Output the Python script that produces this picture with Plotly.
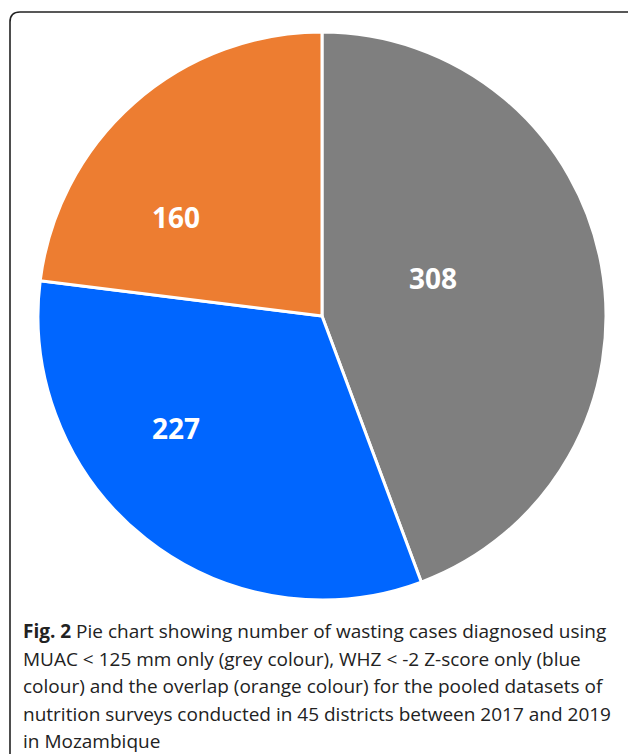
import plotly.graph_objects as go

categories = ["MUAC < 125 mm only", "WHZ < -2 Z-score only", "Overlap"]
values = [308, 227, 160]
colors = ["#7F7F7F", "#0066FF", "#ED7D31"]

caption_lines = [
    "<b>Fig. 2</b> Pie chart showing number of wasting cases diagnosed using",
    "MUAC < 125 mm only (grey colour), WHZ < -2 Z-score only (blue",
    "colour) and the overlap (orange colour) for the pooled datasets of",
    "nutrition surveys conducted in 45 districts between 2017 and 2019",
    "in Mozambique",
]

W, H = 628, 754

# label anchor positions (pixels) as placed in the original figure
label_px = [(433, 278), (176, 428), (176, 217)]
caption_baselines_px = [637, 664.5, 692, 719.5, 747]

fig = go.Figure(go.Pie(
    labels=categories,
    values=values,
    sort=False,
    direction="clockwise",
    rotation=0,
    marker=dict(colors=colors, line=dict(color="white", width=3)),
    textinfo="none",
    domain=dict(x=[38 / W, 606 / W], y=[(H - 600) / H, (H - 32) / H]),
    showlegend=False,
    hoverinfo="label+value",
))

for v, (px, py) in zip(values, label_px):
    fig.add_annotation(text=f"<b>{v}</b>", xref="paper", yref="paper",
                       x=px / W, y=1 - py / H, xanchor="center", yanchor="middle",
                       showarrow=False,
                       font=dict(family="Open Sans", size=28, color="white"))

# Rounded frame (open at right and bottom like the cropped figure)
x0 = 10 / W
yt = 1 - 12 / H
r = 10
path = (f"M {x0},{-0.01} L {x0},{1 - (12 + r) / H} "
        f"Q {x0},{yt} {(10 + r) / W},{yt} L {1.01},{yt}")
fig.add_shape(type="path", path=path, xref="paper", yref="paper",
              line=dict(color="#222222", width=1.6))

for line, base in zip(caption_lines, caption_baselines_px):
    fig.add_annotation(text=line, xref="paper", yref="paper",
                       x=21 / W, y=1 - (base - 6) / H, xanchor="left", yanchor="middle",
                       align="left", showarrow=False,
                       font=dict(family="Open Sans", size=19, color="#222222"))

fig.update_layout(width=W, height=H, margin=dict(l=0, r=0, t=0, b=0),
                  paper_bgcolor="white", plot_bgcolor="white")

fig.write_html("out.html", config={"displayModeBar": False},
               post_script="document.body.style.margin='0px';")
